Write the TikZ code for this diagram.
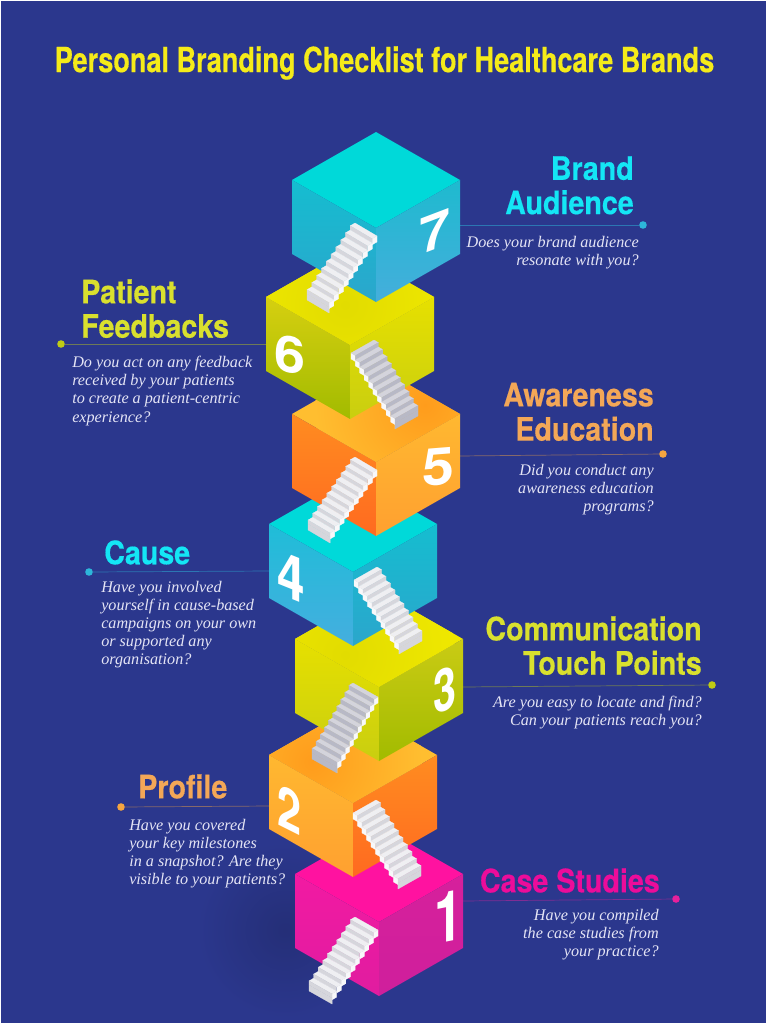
\documentclass[tikz,border=0pt]{standalone}
\usepackage{fontspec}
\setmainfont{Liberation Serif}
\newfontfamily\headfont[FakeStretch=0.885,FakeBold=0.4]{TeX Gyre Heros}
\newfontfamily\titlefont[FakeStretch=0.78,FakeBold=0.4]{TeX Gyre Heros}
\newfontfamily\numfont{TeX Gyre Heros}
\definecolor{bgblue}{HTML}{2B378D}
\definecolor{palecyan}{HTML}{14E6F5}
\definecolor{paleyellow}{HTML}{D9E02E}
\definecolor{paleorange}{HTML}{F3A757}
\definecolor{palepink}{HTML}{EC0C9A}
\definecolor{dotcyan}{HTML}{2DB6DA}
\definecolor{dotyellow}{HTML}{BFCC14}
\definecolor{dotorange}{HTML}{F5A540}
\definecolor{dotpink}{HTML}{E8209C}
\definecolor{titleyellow}{HTML}{F5EB19}
\definecolor{asktext}{HTML}{E4E4F5}
\definecolor{cubeteal}{HTML}{00D9D9}
\definecolor{teal1}{HTML}{15BDD0}
\definecolor{teal2}{HTML}{2BA6CC}
\definecolor{teal3}{HTML}{1EBACF}
\definecolor{teal4}{HTML}{45AEDC}
\definecolor{teal5}{HTML}{1FBDD8}
\definecolor{teal6}{HTML}{45AEDF}
\definecolor{cubelime}{HTML}{EFE800}
\definecolor{lime1}{HTML}{D6CF10}
\definecolor{lime2}{HTML}{A2BB00}
\definecolor{lime3}{HTML}{E6E000}
\definecolor{lime4}{HTML}{C9CE10}
\definecolor{lime5}{HTML}{CACB14}
\definecolor{limeshade}{HTML}{E2DC00}
\definecolor{cubeamber}{HTML}{FFBE30}
\definecolor{amber1}{HTML}{FF8C20}
\definecolor{amber2}{HTML}{FF6A20}
\definecolor{amber3}{HTML}{FFB830}
\definecolor{amber4}{HTML}{FFA030}
\definecolor{ambershade}{HTML}{FF9C1C}
\definecolor{cubepink}{HTML}{FF12A0}
\definecolor{pink1}{HTML}{F21AA2}
\definecolor{pink2}{HTML}{E01CA0}
\definecolor{pink3}{HTML}{D6209C}
\definecolor{pink4}{HTML}{CF1F9C}
\definecolor{steptread}{HTML}{EFEFF2}
\definecolor{stepriser}{HTML}{D6D6DC}
\definecolor{steptreaddark}{HTML}{D4D4DC}
\definecolor{stepriserdark}{HTML}{B8B9C6}
\definecolor{stepside}{HTML}{F8F8FA}
\tikzset{
    title/.style={font=\titlefont\bfseries\fontsize{24.7}{26}\selectfont, text=titleyellow, inner sep=0},
    head/.style={font=\headfont\bfseries\fontsize{23}{24.4}\selectfont, inner sep=0},
    ask/.style={font=\itshape\fontsize{11.5}{12.9}\selectfont, text=asktext, inner sep=0},
    dot/.style={circle, inner sep=0, minimum size=5.4pt},
    leader/.style={line width=0.5pt},
    num/.style={font=\numfont\bfseries\fontsize{#1}{#1}\selectfont, text=white, inner sep=0, transform shape},
    % cube faces
    face7t/.style={fill=cubeteal}, face4t/.style={fill=cubeteal},
    face7l/.style={top color=teal1, bottom color=teal2},
    face7r/.style={top color=teal3, bottom color=teal4},
    face4l/.style={top color=teal5, bottom color=teal6},
    face4r/.style={top color=teal1, bottom color=teal2},
    face6t/.style={fill=cubelime}, face3t/.style={fill=cubelime},
    face6l/.style={top color=lime1, bottom color=lime2},
    face6r/.style={top color=lime3, bottom color=lime4},
    face3l/.style={top color=lime3, bottom color=lime4},
    face3r/.style={top color=lime5, bottom color=lime2},
    face5t/.style={fill=cubeamber}, face2t/.style={fill=cubeamber},
    face5l/.style={top color=amber1, bottom color=amber2},
    face5r/.style={top color=amber3, bottom color=amber4},
    face2l/.style={top color=amber3, bottom color=amber4},
    face2r/.style={top color=amber1, bottom color=amber2},
    face1t/.style={fill=cubepink},
    face1l/.style={top color=pink1, bottom color=pink2},
    face1r/.style={top color=pink3, bottom color=pink4},
    % stairs
    treadlight/.style={fill=steptread, draw=steptread, line width=0.15pt},
    riserlight/.style={fill=stepriser, draw=stepriser, line width=0.15pt},
    treaddark/.style={fill=steptreaddark, draw=steptreaddark, line width=0.15pt},
    riserdark/.style={fill=stepriserdark, draw=stepriserdark, line width=0.15pt},
    stairside/.style={fill=stepside, draw=stepside, line width=0.15pt},
}
% centre x, top y, id
\newcommand{\isocube}[3]{
    \path[face#3t] (#1,#2) -- (#1+84,#2+48) -- (#1,#2+96) -- (#1-84,#2+48) -- cycle;
    \path[face#3l] (#1-84,#2+48) -- (#1,#2+96) -- (#1,#2+170) -- (#1-84,#2+122) -- cycle;
    \path[face#3r] (#1+84,#2+48) -- (#1,#2+96) -- (#1,#2+170) -- (#1+84,#2+122) -- cycle;
}
% centre x, top y, shadow x, shadow y, inner colour, outer colour
\newcommand{\topshade}[6]{
    \begin{scope}
        \clip (#1,#2) -- (#1+84,#2+48) -- (#1,#2+96) -- (#1-84,#2+48) -- cycle;
        \shade[inner color=#5, outer color=#6] (#3,#4) circle (110);
    \end{scope}
}
% start x, y, width x, y, run x, y, edge 0/1, tone
\newcommand{\stairs}[8]{
    \pgfmathsetmacro\stepx{#5/10}
    \pgfmathsetmacro\stepy{abs(#5)/10*0.58}
    \pgfmathsetmacro\stepv{#6/10-\stepy}
    \foreach \i in {0,...,9}{
        \pgfmathsetmacro\ax{#1+\i*#5/10+#7*#3}
        \pgfmathsetmacro\ay{#2+\i*#6/10+#7*#4}
        \path[stairside] (\ax,\ay) -- ++(\stepx,\stepy) -- ++(0,\stepv) -- ++(0,6) -- ++(0,-\stepv) -- ++(-\stepx,-\stepy) -- cycle;
    }
    \foreach \i in {0,...,9}{
        \pgfmathsetmacro\ax{#1+\i*#5/10}
        \pgfmathsetmacro\ay{#2+\i*#6/10}
        \path[tread#8] (\ax,\ay) -- ++(#3,#4) -- ++(\stepx,\stepy) -- ++(-#3,-#4) -- cycle;
        \path[riser#8] (\ax+\stepx,\ay+\stepy) -- ++(#3,#4) -- ++(0,\stepv) -- ++(-#3,-#4) -- cycle;
    }
    % foot of the flight
    \path[riser#8] (#1+#5,#2+#6) -- ++(#3,#4) -- ++(0,6) -- ++(-#3,-#4) -- cycle;
}
\begin{document}
\begin{tikzpicture}[x=0.025cm, y=-0.025cm]
    \useasboundingbox (0,0) rectangle (768,1024);
    \path[fill=white] (0,0) rectangle (768,1024);
    \path[fill=bgblue] (0.8,0.8) rectangle (765.5,1023);
    \shade[inner color=bgblue!85!black, outer color=bgblue] (285,930) circle (88);

    \node[title] (title) at (384.5,63) {Personal Branding Checklist for Healthcare Brands};

    % leaders
    \node[dot, fill=dotcyan] (dot7) at (643,225) {};
    \node[dot, fill=dotyellow] (dot6) at (61,344) {};
    \node[dot, fill=dotorange] (dot5) at (663,454) {};
    \node[dot, fill=dotcyan] (dot4) at (89,572) {};
    \node[dot, fill=dotyellow] (dot3) at (712,685) {};
    \node[dot, fill=dotorange] (dot2) at (121,807) {};
    \node[dot, fill=dotpink] (dot1) at (676,899) {};
    \coordinate (edge7) at (459,225);
    \coordinate (edge6) at (267,344);
    \coordinate (edge5) at (459,456);
    \coordinate (edge4) at (270,571);
    \coordinate (edge3) at (462,687);
    \coordinate (edge2) at (270,806);
    \coordinate (edge1) at (462,901);
    \draw[leader, draw=dotcyan!50!bgblue] (dot7) -- (edge7);
    \draw[leader, draw=dotyellow!45!bgblue] (dot6) -- (edge6);
    \draw[leader, draw=dotorange!45!bgblue] (dot5) -- (edge5);
    \draw[leader, draw=dotcyan!50!bgblue] (dot4) -- (edge4);
    \draw[leader, draw=dotyellow!45!bgblue] (dot3) -- (edge3);
    \draw[leader, draw=dotorange!45!bgblue] (dot2) -- (edge2);
    \draw[leader, draw=dotpink!45!bgblue] (dot1) -- (edge1);

    % cubes, bottom first
    \isocube{379}{826}{1}
    \stairs{355}{917}{23}{13}{-46}{68}{1}{light}
    \node[num=50, yslant=0.2, xscale=0.72] (num1) at (449,917) {1};

    \isocube{353}{707}{2}
    \topshade{353}{707}{312}{762}{ambershade}{cubeamber}
    \stairs{353}{813}{23}{-13}{45}{70}{0}{light}
    \node[num=41, yslant=-0.5, xscale=0.75] (num2) at (290,810) {2};

    \isocube{379}{591}{3}
    \topshade{379}{591}{345}{655}{limeshade}{cubelime}
    \stairs{353}{683}{25}{14}{-41}{70}{1}{dark}
    \node[num=42, yslant=0.3, xscale=0.7] (num3) at (445,690) {3};

    \isocube{353}{476}{4}
    \stairs{354}{580}{23}{-13}{45}{68}{0}{light}
    \node[num=44, yslant=-0.4, xscale=0.8] (num4) at (291,577) {4};

    \isocube{376}{366}{5}
    \topshade{376}{366}{425}{405}{ambershade}{cubeamber}
    \stairs{355}{457}{22}{13}{-47}{67}{1}{light}
    \node[num=37, yslant=0.08, xscale=1.1] (num5) at (438,467) {5};

    \isocube{350}{249}{6}
    \topshade{350}{249}{345}{305}{limeshade}{cubelime}
    \stairs{351}{353}{23}{-13}{44}{70}{0}{dark}
    \node[num=36, yslant=-0.15, xscale=1.1] (num6) at (290,355) {6};

    \isocube{376}{132}{7}
    \stairs{355}{223}{22}{13}{-48}{71}{1}{light}
    \node[num=36, yslant=0.38, xscale=1.1] (num7) at (435,232) {7};

    % labels
    \node[head, text=palecyan, align=right, anchor=north east] (head7) at (634,156) {Brand\\Audience};
    \node[ask, align=right, anchor=north east] (ask7) at (639,235.5) {Does your brand audience\\resonate with you?};
    \node[head, text=paleyellow, align=left, anchor=north west] (head6) at (81,279) {Patient\\Feedbacks};
    \node[ask, align=left, anchor=north west] (ask6) at (72,356) {Do you act on any feedback\\received by your patients\\to create a patient-centric\\experience?};
    \node[head, text=paleorange, align=right, anchor=north east] (head5) at (654,382.5) {Awareness\\Education};
    \node[ask, align=right, anchor=north east] (ask5) at (654,463.5) {Did you conduct any\\awareness education\\programs?};
    \node[head, text=palecyan, align=left, anchor=north west] (head4) at (104,540) {Cause};
    \node[ask, align=left, anchor=north west] (ask4) at (101,580.5) {Have you involved\\yourself in cause-based\\campaigns on your own\\or supported any\\organisation?};
    \node[head, text=paleyellow, align=right, anchor=north east] (head3) at (702,616) {Communication\\Touch Points};
    \node[ask, align=right, anchor=north east] (ask3) at (702,695.5) {Are you easy to locate and find?\\Can your patients reach you?};
    \node[head, text=paleorange, align=left, anchor=north west] (head2) at (138,774) {Profile};
    \node[ask, align=left, anchor=north west] (ask2) at (129,818.5) {Have you covered\\your key milestones\\in a snapshot? Are they\\visible to your patients?};
    \node[head, text=palepink, align=right, anchor=north east] (head1) at (660,868) {Case Studies};
    \node[ask, align=right, anchor=north east] (ask1) at (659,908.5) {Have you compiled\\the case studies from\\your practice?};
\end{tikzpicture}
\end{document}
